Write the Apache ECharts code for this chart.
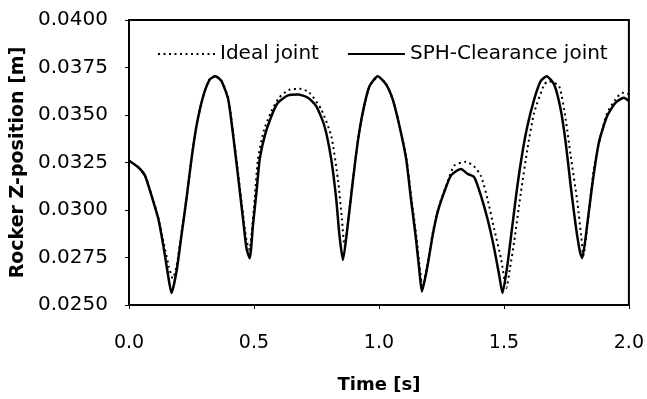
<!DOCTYPE html>
<html>
<head>
<meta charset="UTF-8">
<title>rocker</title>
<script src="https://cdn.jsdelivr.net/npm/echarts@6/dist/echarts.min.js"></script>
<style>
	html, body { margin:0; padding:0; background:#fff; }
	#chart-div { width:647px; height:399px; }
</style>
</head>
<body>
	<div id="chart-div"></div>

	<script type="text/javascript">
		// SPH-Clearance joint (solid)
		var sph_t = [0, 0.037, 0.064, 0.09, 0.117, 0.137, 0.154, 0.170, 0.19, 0.21, 0.23, 0.25, 0.27, 0.297, 0.323, 0.346, 0.37, 0.397, 0.417, 0.436,
			0.456, 0.47, 0.483, 0.496, 0.51, 0.523, 0.543, 0.57, 0.596, 0.636, 0.676, 0.716, 0.749, 0.782, 0.809, 0.829, 0.842, 0.856, 0.875, 0.895,
			0.915, 0.935, 0.962, 0.995, 1.029, 1.055, 1.082, 1.109, 1.128, 1.148, 1.162, 1.172, 1.195, 1.215, 1.235, 1.261, 1.288, 1.328, 1.355, 1.381,
			1.408, 1.434, 1.461, 1.481, 1.494, 1.514, 1.534, 1.554, 1.574, 1.594, 1.621, 1.647, 1.671, 1.701, 1.727, 1.747, 1.767, 1.787, 1.804, 1.813,
			1.833, 1.853, 1.880, 1.913, 1.947, 1.98, 2.0];
		var sph_z = [0.03259, 0.03225, 0.03181, 0.03076, 0.02955, 0.02815, 0.02676, 0.02563, 0.02676, 0.02867, 0.03059, 0.03268, 0.03442, 0.03599, 0.03686, 0.03704, 0.03678, 0.03582, 0.0339, 0.03181,
			0.02955, 0.02798, 0.02746, 0.0292, 0.03094, 0.03268, 0.0339, 0.03495, 0.03565, 0.03603, 0.03608, 0.03591, 0.03547, 0.03442, 0.03268, 0.03059, 0.02867, 0.02737, 0.0292, 0.03146,
			0.03356, 0.03512, 0.03651, 0.03704, 0.0366, 0.03582, 0.03442, 0.03268, 0.03059, 0.0285, 0.02676, 0.02571, 0.02711, 0.02867, 0.0299, 0.03094, 0.03181, 0.03216, 0.0319, 0.03173,
			0.03076, 0.02955, 0.02798, 0.02658, 0.02563, 0.02711, 0.0292, 0.03129, 0.03303, 0.03442, 0.03582, 0.03678, 0.03704, 0.0366, 0.0353, 0.03356, 0.03129, 0.0292, 0.02781, 0.02746,
			0.0292, 0.03129, 0.03356, 0.03495, 0.03565, 0.03591, 0.03573];

		// Ideal joint (dotted)
		var ideal_t = [0, 0.037, 0.064, 0.09, 0.117, 0.14, 0.16, 0.175, 0.19, 0.21, 0.23, 0.25, 0.27, 0.297, 0.323, 0.346, 0.37, 0.397, 0.417, 0.436,
			0.456, 0.47, 0.482, 0.49, 0.503, 0.516, 0.54, 0.57, 0.60, 0.64, 0.683, 0.72, 0.769, 0.809, 0.836, 0.852, 0.862, 0.875, 0.895, 0.915,
			0.935, 0.962, 0.998, 1.03, 1.056, 1.083, 1.11, 1.13, 1.15, 1.163, 1.174, 1.195, 1.215, 1.24, 1.27, 1.301, 1.348, 1.38, 1.408, 1.434,
			1.461, 1.488, 1.51, 1.525, 1.541, 1.568, 1.594, 1.621, 1.661, 1.68, 1.721, 1.747, 1.767, 1.794, 1.81, 1.818, 1.835, 1.86, 1.885, 1.913,
			1.945, 1.973, 2.0];
		var ideal_z = [0.0326, 0.03225, 0.0318, 0.0308, 0.0296, 0.0282, 0.0270, 0.0264, 0.0270, 0.0288, 0.0306, 0.0327, 0.0345, 0.0360, 0.0369, 0.03705, 0.0368, 0.0359, 0.0340, 0.0320,
			0.0298, 0.0284, 0.0279, 0.0287, 0.0306, 0.0327, 0.0342, 0.0352, 0.0359, 0.03632, 0.03638, 0.0362, 0.0353, 0.0339, 0.0316, 0.0295, 0.0281, 0.0292, 0.0315, 0.0336,
			0.0351, 0.0365, 0.03702, 0.0366, 0.0358, 0.0344, 0.0327, 0.0306, 0.0286, 0.0270, 0.0260, 0.0272, 0.0288, 0.0302, 0.0313, 0.03233, 0.03254, 0.0323, 0.0318, 0.0306,
			0.0290, 0.02746, 0.0259, 0.0270, 0.02834, 0.03094, 0.0332, 0.03512, 0.0366, 0.03678, 0.03651, 0.03477, 0.03286, 0.03042, 0.0285, 0.0276, 0.0293, 0.0322, 0.0338, 0.0351,
			0.0358, 0.03617, 0.0361];

		var series_names = ['Ideal joint', 'SPH-Clearance joint'];

		function pairs(t, z){
			var out = [];
			for(var i=0; i<t.length; i++){
				out.push([t[i], z[i]]);
			}
			return out;
		}

		var myChart = echarts.init(document.getElementById('chart-div'));

		var option = {
			animation: false,
			backgroundColor: '#fff',
			grid: {
				left: 129, right: 17, top: 20, bottom: 92,
				show: true, borderColor: '#000', borderWidth: 2
			},
			legend: {
				left: 152, top: 39,
				itemWidth: 57, itemHeight: 14, itemGap: 28,
				itemStyle: { color: 'transparent', borderWidth: 0, opacity: 0 },
				textStyle: { fontFamily: 'DejaVu Sans', fontSize: 20, color: '#000' },
				data: series_names
			},
			xAxis: {
				type: 'value',
				min: 0, max: 2, interval: 0.5,
				name: 'Time [s]',
				nameLocation: 'middle',
				nameGap: 71,
				nameTextStyle: { fontFamily: 'DejaVu Sans', fontWeight: 'bold', fontSize: 18, color: '#000' },
				axisLine: { lineStyle: { color: '#000', width: 2 } },
				axisTick: { show: true, length: 4, lineStyle: { color: '#000' } },
				axisLabel: {
					margin: 29, color: '#000', fontFamily: 'DejaVu Sans', fontSize: 19,
					formatter: function(v){ return v.toFixed(1); }
				},
				splitLine: { show: false }
			},
			yAxis: {
				type: 'value',
				min: 0.025, max: 0.04, interval: 0.0025,
				name: 'Rocker Z-position [m]',
				nameLocation: 'middle',
				nameGap: 101,
				nameTextStyle: { fontFamily: 'DejaVu Sans', fontWeight: 'bold', fontSize: 19, color: '#000' },
				axisLine: { show: true, lineStyle: { color: '#000', width: 2 } },
				axisTick: { show: true, length: 4, lineStyle: { color: '#000' } },
				axisLabel: {
					margin: 21, color: '#000', fontFamily: 'DejaVu Sans', fontSize: 20,
					formatter: function(v){ return v.toFixed(4); }
				},
				splitLine: { show: false }
			},
			series: [
				{
					name: series_names[0],
					type: 'line',
					data: pairs(ideal_t, ideal_z),
					showSymbol: false,
					symbol: 'none',
					smooth: 0.2,
					color: '#000',
					lineStyle: { color: '#000', width: 2, type: [2, 3.5] },
					z: 2
				},
				{
					name: series_names[1],
					type: 'line',
					data: pairs(sph_t, sph_z),
					showSymbol: false,
					symbol: 'none',
					smooth: 0.2,
					color: '#000',
					lineStyle: { color: '#000', width: 2.5, type: 'solid' },
					z: 3
				}
			]
		};

		myChart.setOption(option);
	</script>
</body>
</html>
